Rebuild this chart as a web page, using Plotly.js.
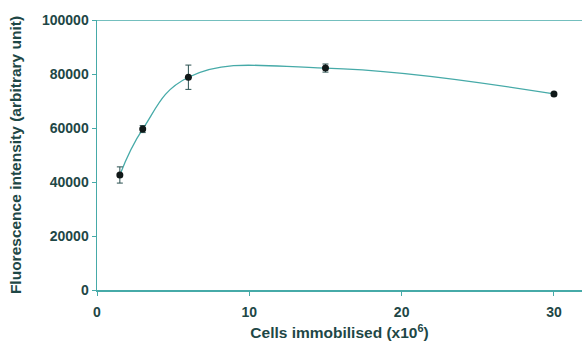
<!DOCTYPE html>
<html>
<head>
<meta charset="utf-8">
<script src="https://cdn.plot.ly/plotly-3.0.1.min.js"></script>
<style>html,body{margin:0;padding:0;background:#fff;}#chart{width:583px;height:346px;}</style>
</head>
<body>
<div id="chart"></div>
<script>
const cells = [1.5, 3, 6, 15, 30];
const intensity = [42600, 59600, 78800, 82200, 72600];
const errors = [3000, 1300, 4500, 1500, 600];
const xTicks = [0, 10, 20, 30];
const yTicks = [0, 20000, 40000, 60000, 80000, 100000];

const axisColor = '#46aaa8';
const textColor = '#1e4746';
const tickFont = {family: 'Liberation Sans, Arial, sans-serif', size: 14, color: textColor, weight: 'bold'};
const titleFont = {family: 'Liberation Sans, Arial, sans-serif', size: 15.5, color: textColor, weight: 'bold'};

const traces = [
  {
    x: cells, y: intensity, mode: 'lines', type: 'scatter',
    line: {shape: 'spline', smoothing: 1.2, color: axisColor, width: 1.3},
    hoverinfo: 'skip', showlegend: false
  },
  {
    x: cells, y: intensity, mode: 'markers', type: 'scatter',
    marker: {color: '#101818', size: 7, symbol: 'circle'},
    error_y: {type: 'data', array: errors, visible: true, color: '#2a5050', thickness: 1, width: 3},
    showlegend: false
  }
];

const layout = {
  width: 583, height: 346,
  margin: {l: 97, r: 1, t: 20, b: 56},
  paper_bgcolor: '#fff', plot_bgcolor: '#fff',
  font: tickFont,
  xaxis: {
    range: [0, 31.84], tickvals: xTicks, ticktext: xTicks.map(String),
    showgrid: false, zeroline: false, showline: true, linecolor: axisColor, linewidth: 1.5,
    ticks: 'outside', ticklen: 4, tickcolor: axisColor, tickfont: tickFont, ticklabelstandoff: 5,
    title: {text: 'Cells immobilised (x10<sup>6</sup>)', font: titleFont, standoff: 8}
  },
  yaxis: {
    range: [0, 100000], tickvals: yTicks, ticktext: yTicks.map(String),
    showgrid: false, zeroline: false, showline: true, linecolor: axisColor, linewidth: 1.5,
    ticks: 'outside', ticklen: 4, tickcolor: axisColor, tickfont: tickFont,
    title: {text: 'Fluorescence intensity (arbitrary unit)', font: titleFont, standoff: 16}
  },
  shapes: [{
    type: 'line', xref: 'paper', yref: 'y', x0: 0, x1: 1, y0: 100000, y1: 100000,
    line: {color: axisColor, width: 1.5}
  }]
};

Plotly.newPlot('chart', traces, layout, {displayModeBar: false, staticPlot: true});
</script>
</body>
</html>
